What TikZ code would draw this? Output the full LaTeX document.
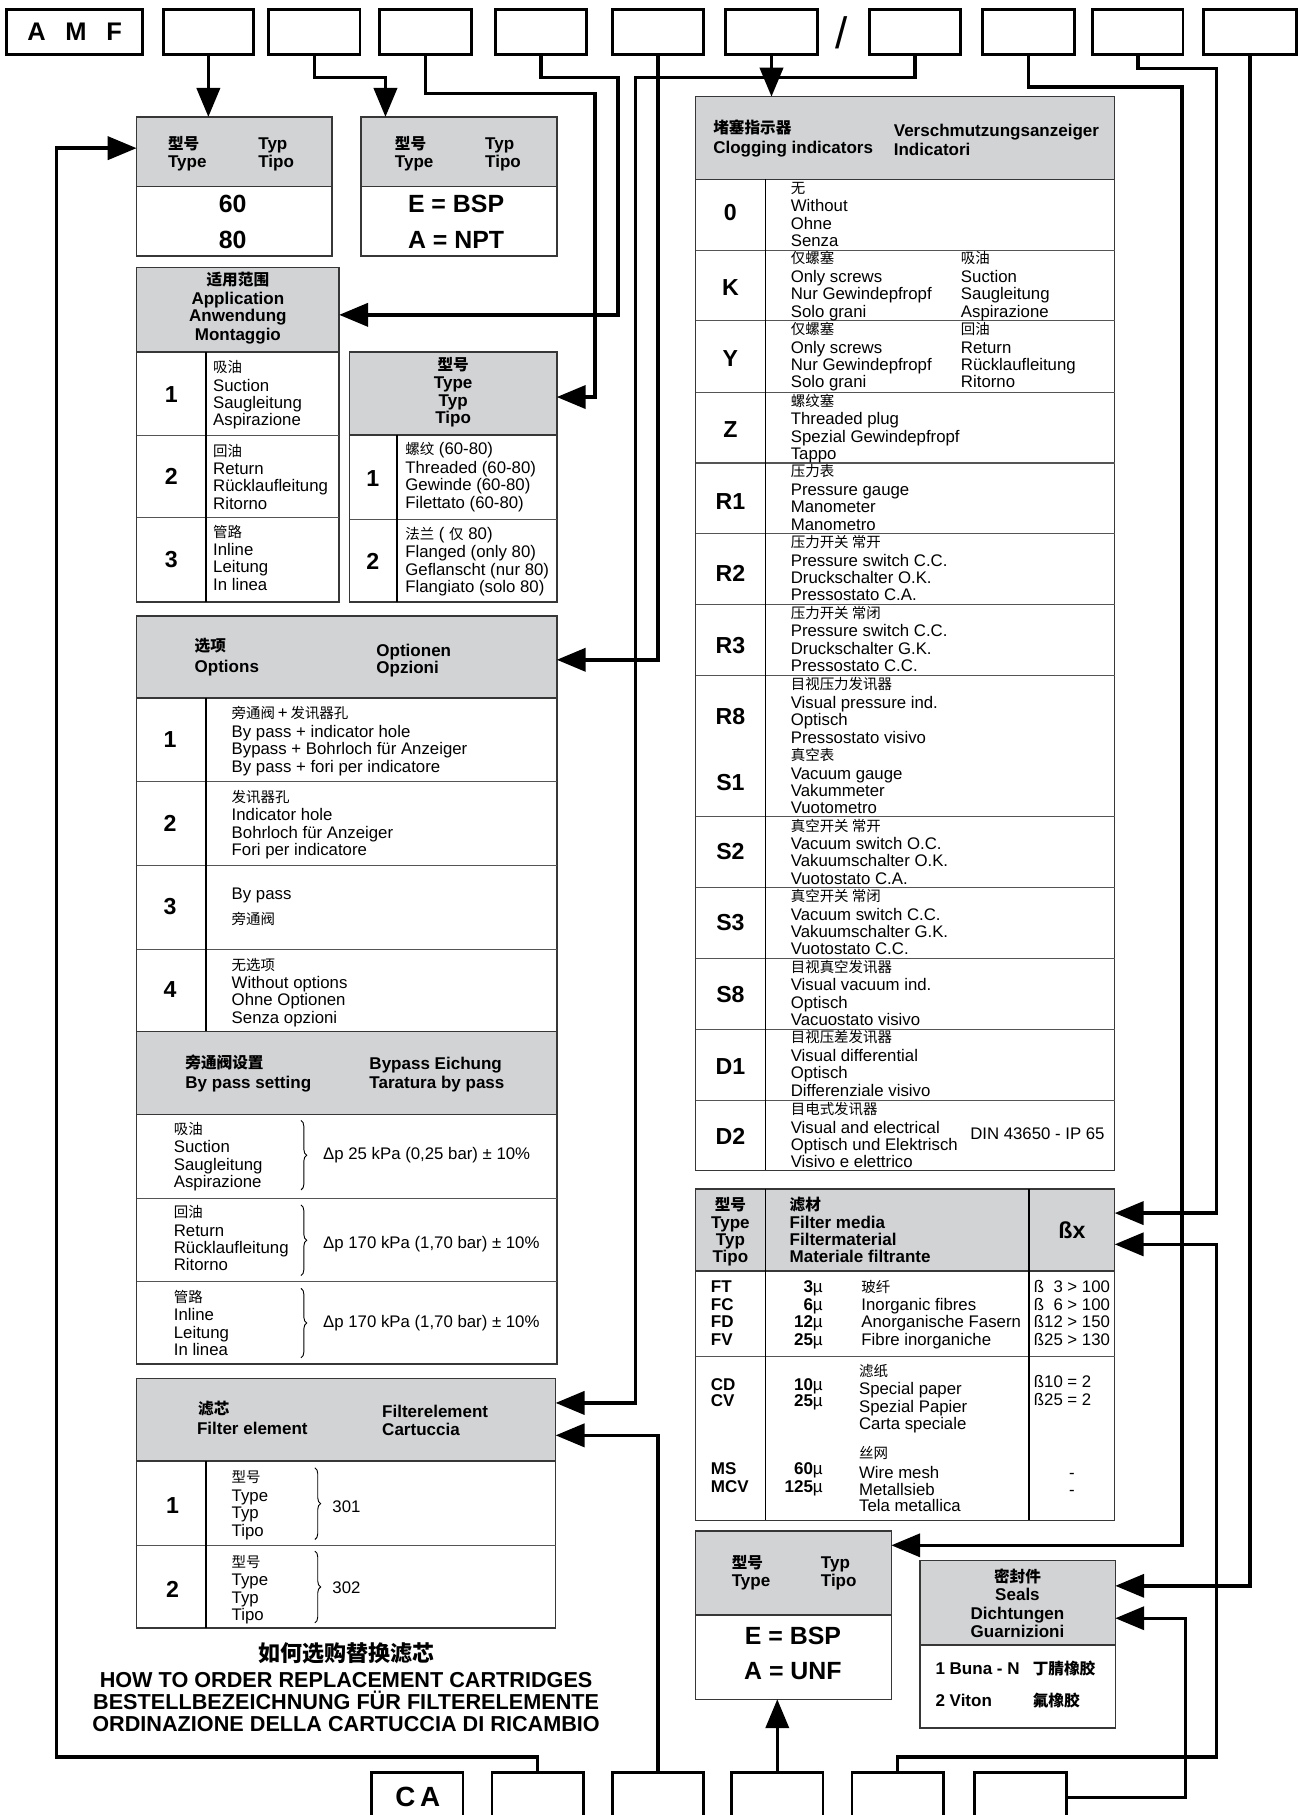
\documentclass[tikz,border=0pt]{standalone}
\usepackage{fontspec}
\setmainfont{Liberation Sans}
\newfontfamily\cjkf{Noto Sans CJK SC}
\usetikzlibrary{arrows.meta,decorations.pathreplacing}
\definecolor{hdr}{RGB}{210,211,213}
\definecolor{tbledge}{RGB}{55,55,55}
\newcommand\zh[1]{{\cjkf\fontsize{12.5}{15}\selectfont #1}}
\newcommand\zhb[1]{{\cjkf\bfseries\fontsize{13.5}{15}\selectfont #1}}
\tikzset{
  tblframe/.style={draw=tbledge, line width=1.3pt, inner sep=0pt, outer sep=0pt},
  hsep/.style={draw=tbledge, line width=1.3pt},
  rowline/.style={draw=tbledge!85, line width=0.9pt},
  colline/.style={draw=black, line width=1pt},
  topbox/.style={draw, line width=2.5pt, inner sep=0pt, outer sep=0pt, anchor=north west, minimum height=39pt},
  arrw/.style={line width=3pt, -{Triangle[length=25pt,width=20pt]}},
  txt/.style={anchor=base west, inner sep=0pt, font=\fontsize{14.5}{15}\selectfont},
  hd/.style={anchor=base west, inner sep=0pt, font=\bfseries\fontsize{14.7}{15}\selectfont},
  hdc/.style={hd, anchor=base},
  num/.style={anchor=center, inner sep=0pt, font=\bfseries\fontsize{20}{20}\selectfont},
  bigv/.style={anchor=center, inner sep=0pt, font=\bfseries\fontsize{21.5}{22}\selectfont},
  ttl/.style={anchor=base, inner sep=0pt, font=\bfseries\fontsize{18.7}{19}\selectfont},
  mybrace/.style={decorate, decoration={brace, amplitude=5pt}, line width=0.8pt},
}
% name x1 y1 x2 y2 yheader
\newcommand\mktable[6]{%
  \fill[hdr] (#2,#3) rectangle (#4,#6);
  \draw[hsep] (#2,#6) -- (#4,#6);
  \node[tblframe, minimum width={(#4-#2)*1pt}, minimum height={(#5-#3)*1pt}, anchor=north west] (#1) at (#2,#3) {};}
% name x centre-of-first-line l0 l1 l2 l3
\newcommand\cellfour[7]{%
  \node[txt] (#1a) at (#2,{#3+5}) {#4};
  \node[txt] (#1b) at (#2,{#3+21}) {#5};
  \node[txt] (#1c) at (#2,{#3+36}) {#6};
  \node[txt] (#1d) at (#2,{#3+51}) {#7};}
\begin{document}
\begin{tikzpicture}[x=1pt,y=-1pt]
\useasboundingbox (0,0) rectangle (1123,1568);
\fill[white] (0,0) rectangle (1123,1568);
\clip (0,0) rectangle (1123,1568);

% ---------- top code boxes ----------
\node[topbox, minimum width=117pt, font=\bfseries\fontsize{22}{22}\selectfont] (amf) at (6,8) {A\hspace{17pt}M\hspace{17pt}F};
\node[topbox, minimum width=78pt] (t1) at (141,8) {};
\node[topbox, minimum width=79pt] (t2) at (232,8) {};
\node[topbox, minimum width=79pt] (t3) at (328,8) {};
\node[topbox, minimum width=79pt] (t4) at (428,8) {};
\node[topbox, minimum width=79pt] (t5) at (529,8) {};
\node[topbox, minimum width=79pt] (t6) at (627,8) {};
\node[anchor=center, inner sep=0pt, font=\fontsize{38}{38}\selectfont] (slash) at (727,28) {/};
\node[topbox, minimum width=79pt] (t7) at (751,8) {};
\node[topbox, minimum width=79pt] (t8) at (849,8) {};
\node[topbox, minimum width=78pt] (t9) at (944,8) {};
\node[topbox, minimum width=80pt] (t10) at (1040,8) {};

% ---------- bottom code boxes ----------
\node[topbox, minimum width=79pt, minimum height=60pt] (ca) at (321,1531) {};
\node[anchor=center, inner sep=0pt, font=\bfseries\fontsize{24}{24}\selectfont] (catext) at (361,1552) {C\,A};
\node[topbox, minimum width=79pt, minimum height=60pt] (c1) at (425,1531) {};
\node[topbox, minimum width=79pt, minimum height=60pt] (c2) at (529,1531) {};
\node[topbox, minimum width=79pt, minimum height=60pt] (c3) at (632,1531) {};
\node[topbox, minimum width=79pt, minimum height=60pt] (c4) at (736,1531) {};
\node[topbox, minimum width=79pt, minimum height=60pt] (c5) at (842,1531) {};

% ---------- box 1: 60 / 80 ----------
\mktable{b1}{118}{101}{287}{221}{161}
\node[hd] (b1h1) at (145,129) {\zhb{型号}};
\node[hd] (b1h2) at (145,145) {Type};
\node[hd] (b1h3) at (223,129) {Typ};
\node[hd] (b1h4) at (223,145) {Tipo};
\node[bigv] (b1v1) at (201,176) {60};
\node[bigv] (b1v2) at (201,207) {80};

% ---------- box 2: E / A ----------
\mktable{b2}{312}{101}{481}{221}{161}
\node[hd] (b2h1) at (341,129) {\zhb{型号}};
\node[hd] (b2h2) at (341,145) {Type};
\node[hd] (b2h3) at (419,129) {Typ};
\node[hd] (b2h4) at (419,145) {Tipo};
\node[bigv] (b2v1) at (394,176) {E = BSP};
\node[bigv] (b2v2) at (394,207) {A = NPT};

% ---------- Application ----------
\mktable{app}{118}{231}{293}{520}{304}
\draw[rowline] (118,376) -- (293,376);
\draw[rowline] (118,447) -- (293,447);
\draw[colline] (178,304) -- (178,520);
\node[hdc] (apph1) at (205.5,247) {\zhb{适用范围}};
\node[hdc] (apph2) at (205.5,263) {Application};
\node[hdc] (apph3) at (205.5,278) {Anwendung};
\node[hdc] (apph4) at (205.5,294) {Montaggio};
\cellfour{a1}{184}{317}{\zh{吸油}}{Suction}{Saugleitung}{Aspirazione}
\cellfour{a2}{184}{389}{\zh{回油}}{Return}{Rücklaufleitung}{Ritorno}
\cellfour{a3}{184}{459}{\zh{管路}}{Inline}{Leitung}{In linea}
\node[num] (an1) at (148,341) {1};
\node[num] (an2) at (148,412) {2};
\node[num] (an3) at (148,483) {3};

% ---------- Type (thread) ----------
\mktable{tt}{302}{304}{481}{520}{376}
\draw[rowline] (302,449) -- (481,449);
\draw[colline] (343,376) -- (343,520);
\node[hdc] (tth1) at (391.5,320) {\zhb{型号}};
\node[hdc] (tth2) at (391.5,336) {Type};
\node[hdc] (tth3) at (391.5,351) {Typ};
\node[hdc] (tth4) at (391.5,366) {Tipo};
\cellfour{tr1}{350}{388}{\zh{螺纹} (60-80)}{Threaded (60-80)}{Gewinde (60-80)}{Filettato (60-80)}
\cellfour{tr2}{350}{461}{\zh{法兰} ( \zh{仅} 80)}{Flanged (only 80)}{Geflanscht (nur 80)}{Flangiato (solo 80)}
\node[num] (tn1) at (322,413) {1};
\node[num] (tn2) at (322,485) {2};

% ---------- Options ----------
\mktable{opt}{118}{532}{481}{891}{603}
\draw[rowline] (118,675) -- (481,675);
\draw[rowline] (118,748) -- (481,748);
\draw[rowline] (118,820) -- (481,820);
\draw[colline] (178,603) -- (178,891);
\node[hd] (opth1) at (168,563) {\zhb{选项}};
\node[hd] (opth2) at (168,581) {Options};
\node[hd] (opth3) at (325,567) {Optionen};
\node[hd] (opth4) at (325,582) {Opzioni};
\cellfour{o1}{200}{616}{\zh{旁通阀}\,+\,\zh{发讯器孔}}{By pass + indicator hole}{Bypass + Bohrloch für Anzeiger}{By pass + fori per indicatore}
\cellfour{o2}{200}{688}{\zh{发讯器孔}}{Indicator hole}{Bohrloch für Anzeiger}{Fori per indicatore}
\node[txt] (o3a) at (200,777) {By pass};
\node[txt] (o3b) at (200,799) {\zh{旁通阀}};
\cellfour{o4}{200}{833}{\zh{无选项}}{Without options}{Ohne Optionen}{Senza opzioni}
\node[num] (on1) at (147,639) {1};
\node[num] (on2) at (147,711) {2};
\node[num] (on3) at (147,783) {3};
\node[num] (on4) at (147,855) {4};

% ---------- By pass setting ----------
\mktable{byp}{118}{891}{481}{1178.5}{963}
\draw[rowline] (118,1035) -- (481,1035);
\draw[rowline] (118,1107) -- (481,1107);
\node[hd] (byph1) at (160,923) {\zhb{旁通阀设置}};
\node[hd] (byph2) at (160,940) {By pass setting};
\node[hd] (byph3) at (319,924) {Bypass Eichung};
\node[hd] (byph4) at (319,940) {Taratura by pass};
\cellfour{p1}{150}{975}{\zh{吸油}}{Suction}{Saugleitung}{Aspirazione}
\cellfour{p2}{150}{1047}{\zh{回油}}{Return}{Rücklaufleitung}{Ritorno}
\cellfour{p3}{150}{1120}{\zh{管路}}{Inline}{Leitung}{In linea}
\draw[mybrace] (260,968) -- (260,1028);
\draw[mybrace] (260,1041) -- (260,1102);
\draw[mybrace] (260,1113) -- (260,1173);
\node[txt] (pv1) at (279,1002) {Δp 25 kPa (0,25 bar) ± 10\%};
\node[txt] (pv2) at (279,1079) {Δp 170 kPa (1,70 bar) ± 10\%};
\node[txt] (pv3) at (279,1147) {Δp 170 kPa (1,70 bar) ± 10\%};

% ---------- Filter element ----------
\mktable{fe}{118}{1191}{480}{1406.5}{1262}
\draw[rowline] (118,1335.5) -- (480,1335.5);
\draw[colline] (178,1262) -- (178,1406.5);
\node[hd] (feh1) at (171,1222) {\zhb{滤芯}};
\node[hd] (feh2) at (170,1239) {Filter element};
\node[hd] (feh3) at (330,1225) {Filterelement};
\node[hd] (feh4) at (330,1240) {Cartuccia};
\cellfour{f1}{200}{1276}{\zh{型号}}{Type}{Typ}{Tipo}
\cellfour{f2}{200}{1349}{\zh{型号}}{Type}{Typ}{Tipo}
\draw[mybrace] (272,1268) -- (272,1330);
\draw[mybrace] (272,1340) -- (272,1402);
\node[num] (fn1) at (149,1301) {1};
\node[num] (fn2) at (149,1373) {2};
\node[txt] (fv1) at (287,1307) {301};
\node[txt] (fv2) at (287,1377) {302};

% ---------- title ----------
\node[anchor=base, inner sep=0pt, font=\cjkf\bfseries\fontsize{19}{19}\selectfont] (ti0) at (299,1435) {如何选购替换滤芯};
\node[ttl] (ti1) at (299,1458) {HOW TO ORDER REPLACEMENT CARTRIDGES};
\node[ttl] (ti2) at (299,1477) {BESTELLBEZEICHNUNG FÜR FILTERELEMENTE};
\node[ttl] (ti3) at (299,1496) {ORDINAZIONE DELLA CARTUCCIA DI RICAMBIO};

% ---------- Clogging indicators ----------
\mktable{clog}{601}{83.5}{963}{1011}{155}
\foreach \yy in {216,277,339,400,461,522,583.5,705.5,767,828,889,951}
  \draw[rowline] (601,\yy) -- (963,\yy);
\draw[colline] (661,155) -- (661,1011);
\node[hd] (clh1) at (616,115) {\zhb{堵塞指示器}};
\node[hd] (clh2) at (616,133) {Clogging indicators};
\node[hd] (clh3) at (772,118) {Verschmutzungsanzeiger};
\node[hd] (clh4) at (772,134) {Indicatori};
\cellfour{k0}{683}{162}{\zh{无}}{Without}{Ohne}{Senza}
\cellfour{kk}{683}{223}{\zh{仅螺塞}}{Only screws}{Nur Gewindepfropf}{Solo grani}
\cellfour{kkb}{830}{223}{\zh{吸油}}{Suction}{Saugleitung}{Aspirazione}
\cellfour{ky}{683}{284}{\zh{仅螺塞}}{Only screws}{Nur Gewindepfropf}{Solo grani}
\cellfour{kyb}{830}{284}{\zh{回油}}{Return}{Rücklaufleitung}{Ritorno}
\cellfour{kz}{683}{346}{\zh{螺纹塞}}{Threaded plug}{Spezial Gewindepfropf}{Tappo}
\cellfour{kr1}{683}{407}{\zh{压力表}}{Pressure gauge}{Manometer}{Manometro}
\cellfour{kr2}{683}{468}{\zh{压力开关 常开}}{Pressure switch C.C.}{Druckschalter O.K.}{Pressostato C.A.}
\cellfour{kr3}{683}{529}{\zh{压力开关 常闭}}{Pressure switch C.C.}{Druckschalter G.K.}{Pressostato C.C.}
\cellfour{kr8}{683}{591}{\zh{目视压力发讯器}}{Visual pressure ind.}{Optisch}{Pressostato visivo}
\cellfour{ks1}{683}{652}{\zh{真空表}}{Vacuum gauge}{Vakummeter}{Vuotometro}
\cellfour{ks2}{683}{713}{\zh{真空开关 常开}}{Vacuum switch O.C.}{Vakuumschalter O.K.}{Vuotostato C.A.}
\cellfour{ks3}{683}{774}{\zh{真空开关 常闭}}{Vacuum switch C.C.}{Vakuumschalter G.K.}{Vuotostato C.C.}
\cellfour{ks8}{683}{835}{\zh{目视真空发讯器}}{Visual vacuum ind.}{Optisch}{Vacuostato visivo}
\cellfour{kd1}{683}{896}{\zh{目视压差发讯器}}{Visual differential}{Optisch}{Differenziale visivo}
\cellfour{kd2}{683}{958}{\zh{目电式发讯器}}{Visual and electrical}{Optisch und Elektrisch}{Visivo e elettrico}
\node[txt] (din) at (838,984) {DIN 43650 - IP 65};
\node[num] (cn0) at (631,184) {0};
\node[num] (cnk) at (631,248) {K};
\node[num] (cny) at (631,310) {Y};
\node[num] (cnz) at (631,371) {Z};
\node[num] (cnr1) at (631,433) {R1};
\node[num] (cnr2) at (631,495) {R2};
\node[num] (cnr3) at (631,558) {R3};
\node[num] (cnr8) at (631,619) {R8};
\node[num] (cns1) at (631,676) {S1};
\node[num] (cns2) at (631,736) {S2};
\node[num] (cns3) at (631,797) {S3};
\node[num] (cns8) at (631,859) {S8};
\node[num] (cnd1) at (631,921) {D1};
\node[num] (cnd2) at (631,982) {D2};

% ---------- Filter media ----------
\mktable{fm}{601}{1027}{963}{1313.5}{1098}
\draw[rowline] (601,1171.5) -- (963,1171.5);
\draw[colline] (661,1027) -- (661,1313.5);
\draw[colline] (889,1027) -- (889,1313.5);
\node[hdc] (fmh1) at (631,1046) {\zhb{型号}};
\node[hdc] (fmh2) at (631,1061) {Type};
\node[hdc] (fmh3) at (631,1076) {Typ};
\node[hdc] (fmh4) at (631,1091) {Tipo};
\node[hd] (fmh5) at (682,1046) {\zhb{滤材}};
\node[hd] (fmh6) at (682,1061) {Filter media};
\node[hd] (fmh7) at (682,1076) {Filtermaterial};
\node[hd] (fmh8) at (682,1091) {Materiale filtrante};
\node[num] (fmh9) at (926,1063) {ßx};
% row 1
\node[hd] (m1a) at (614,1117) {FT};
\node[hd] (m1b) at (614,1132) {FC};
\node[hd] (m1c) at (614,1147) {FD};
\node[hd] (m1d) at (614,1162) {FV};
\node[hd, anchor=base east] (u1a) at (711,1117) {3\textmd{µ}};
\node[hd, anchor=base east] (u1b) at (711,1132) {6\textmd{µ}};
\node[hd, anchor=base east] (u1c) at (711,1147) {12\textmd{µ}};
\node[hd, anchor=base east] (u1d) at (711,1162) {25\textmd{µ}};
\node[txt] (d1a) at (744,1117) {\zh{玻纤}};
\node[txt] (d1b) at (744,1132) {Inorganic fibres};
\node[txt] (d1c) at (744,1147) {Anorganische Fasern};
\node[txt] (d1d) at (744,1162) {Fibre inorganiche};
\node[txt] (e1a) at (893,1117) {ß\phantom{1}3 > 100};
\node[txt] (e1b) at (893,1132) {ß\phantom{1}6 > 100};
\node[txt] (e1c) at (893,1147) {ß12 > 150};
\node[txt] (e1d) at (893,1162) {ß25 > 130};
% row 2
\node[hd] (m2a) at (614,1201) {CD};
\node[hd] (m2b) at (614,1215) {CV};
\node[hd, anchor=base east] (u2a) at (711,1201) {10\textmd{µ}};
\node[hd, anchor=base east] (u2b) at (711,1215) {25\textmd{µ}};
\node[txt] (d2a) at (742,1189) {\zh{滤纸}};
\node[txt] (d2b) at (742,1205) {Special paper};
\node[txt] (d2c) at (742,1220) {Spezial Papier};
\node[txt] (d2d) at (742,1235) {Carta speciale};
\node[txt] (e2a) at (893,1199) {ß10 = 2};
\node[txt] (e2b) at (893,1214) {ß25 = 2};
% row 3
\node[hd] (m3a) at (614,1274) {MS};
\node[hd] (m3b) at (614,1289) {MCV};
\node[hd, anchor=base east] (u3a) at (711,1274) {60\textmd{µ}};
\node[hd, anchor=base east] (u3b) at (711,1289) {125\textmd{µ}};
\node[txt] (d3a) at (742,1260) {\zh{丝网}};
\node[txt] (d3b) at (742,1277) {Wire mesh};
\node[txt] (d3c) at (742,1292) {Metallsieb};
\node[txt] (d3d) at (742,1306) {Tela metallica};
\node[txt, anchor=base] (e3a) at (926,1277) {-};
\node[txt, anchor=base] (e3b) at (926,1292) {-};

% ---------- E=BSP / A=UNF ----------
\mktable{ebsp}{601}{1322.5}{770}{1468}{1395}
\node[hd] (ebh1) at (632,1355) {\zhb{型号}};
\node[hd] (ebh2) at (632,1371) {Type};
\node[hd] (ebh3) at (709,1355) {Typ};
\node[hd] (ebh4) at (709,1371) {Tipo};
\node[bigv] (ebv1) at (685,1413) {E = BSP};
\node[bigv] (ebv2) at (685,1444) {A = UNF};

% ---------- Seals ----------
\mktable{seal}{795}{1348}{963.5}{1493}{1421}
\node[hdc] (slh1) at (879,1367) {\zhb{密封件}};
\node[hdc] (slh2) at (879,1383) {Seals};
\node[hdc] (slh3) at (879,1399) {Dichtungen};
\node[hdc] (slh4) at (879,1415) {Guarnizioni};
\node[hd] (sl1) at (808,1447) {1 Buna - N};
\node[hd] (sl1z) at (892,1447) {\zhb{丁腈橡胶}};
\node[hd] (sl2) at (808,1474) {2 Viton};
\node[hd] (sl2z) at (892,1474) {\zhb{氟橡胶}};

% ---------- connectors (top) ----------
\draw[arrw] (t1.south) -- (b1.north -| t1.south);
\draw[arrw] (t2.south) |- (333,67) -- (b2.north -| 333,67);
\draw[arrw] (t3.south) |- (514,81) |- (tt.east |- 0,343);
\draw[arrw] (t4.south) |- (534,67) |- (app.east |- 0,272);
\draw[arrw] (t5.south) |- (opt.east |- 0,570);
\draw[arrw] (t6.south) -- (clog.north -| t6.south);
\draw[arrw] (t7.south) |- (549,67) |- (fe.east |- 0,1212);
\draw[arrw] (t8.south) |- (1021,75) |- (ebsp.east |- 0,1335);
\draw[arrw] (t9.south) |- (1051,59) |- (fm.east |- 0,1048);
\draw[arrw] (t10.south) |- (seal.east |- 0,1370);

% ---------- connectors (bottom) ----------
\draw[arrw] (c1.north) |- (49,1518) |- (b1.west |- 0,128);
\draw[arrw] (c2.north) |- (fe.east |- 0,1240);
\draw[arrw] (c3.north) -- (ebsp.south -| c3.north);
\draw[arrw] (c4.north) |- (1051,1518) |- (fm.east |- 0,1075);
\draw[arrw] (c5.east |- 0,1553) -| (1024,1398) -- (seal.east |- 0,1398);
\end{tikzpicture}
\end{document}
